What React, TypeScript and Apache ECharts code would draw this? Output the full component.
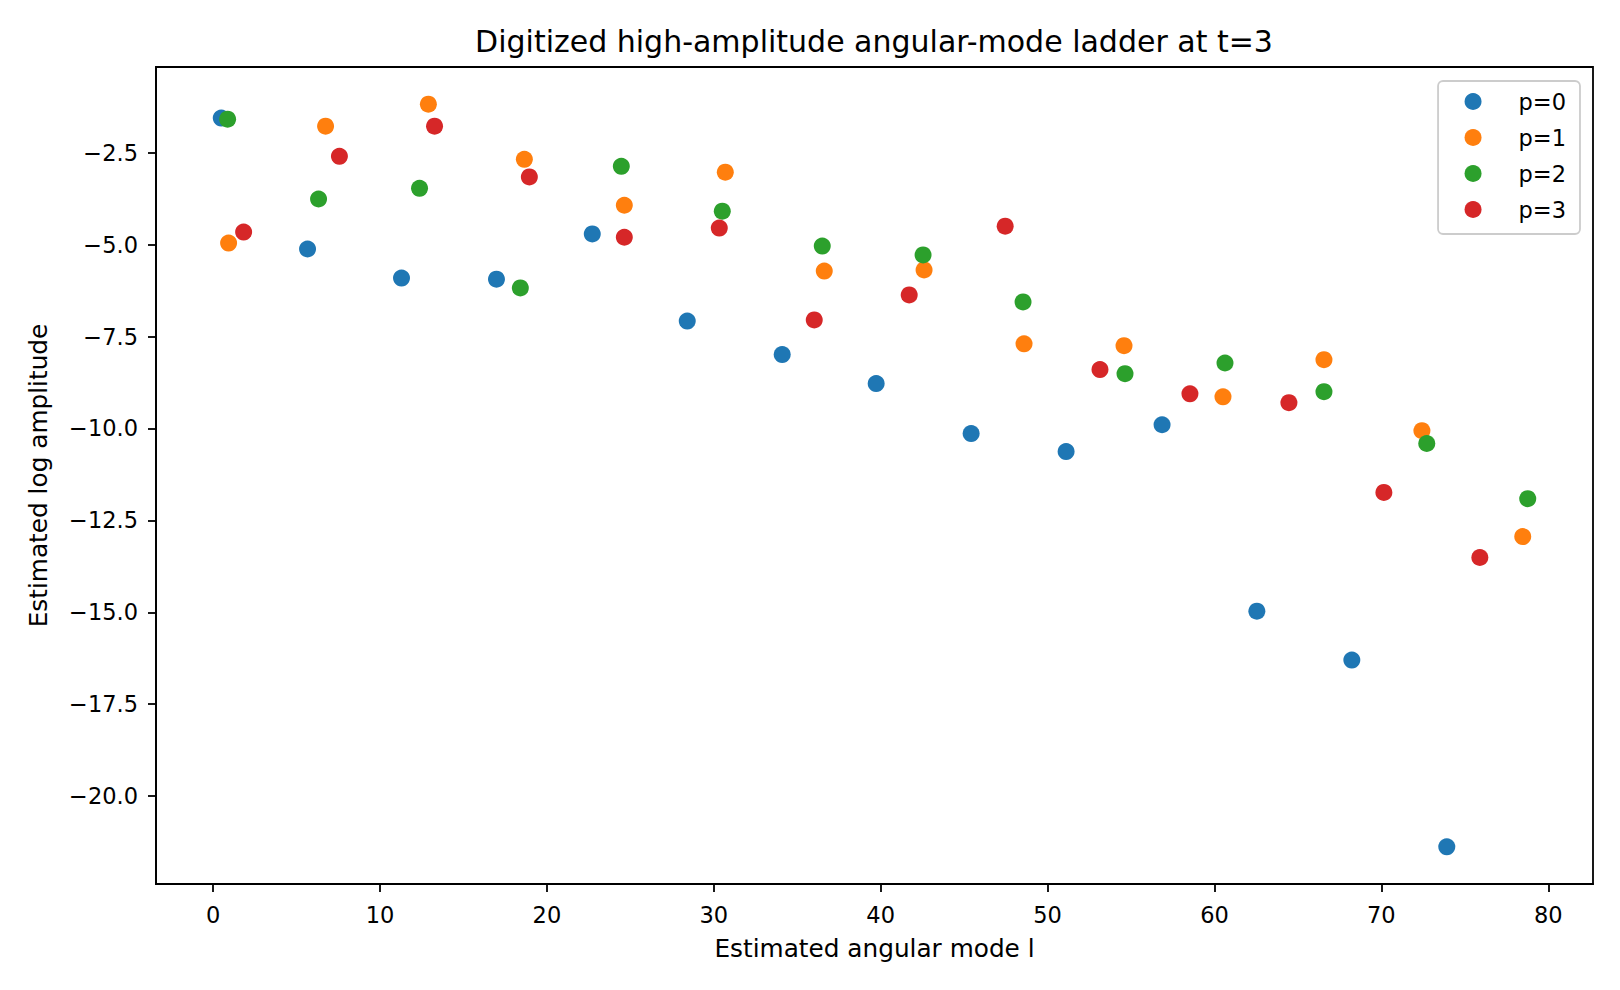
import React, { useEffect, useRef } from 'react'
import * as echarts from 'echarts'

// values: [angular mode l, log amplitude]
const seriesNames = ['p=0', 'p=1', 'p=2', 'p=3']
const colors = ['#1f77b4', '#ff7f0e', '#2ca02c', '#d62728']

const p0 = [
  [0.49, -1.56], [5.66, -5.12], [11.29, -5.91], [16.98, -5.94], [22.72, -4.71],
  [28.41, -7.08], [34.1, -7.99], [39.73, -8.78], [45.42, -10.14], [51.11, -10.63],
  [56.86, -9.9], [62.54, -14.97], [68.23, -16.3], [73.92, -21.38],
]
const p1 = [
  [0.93, -4.96], [6.74, -1.78], [12.9, -1.18], [18.65, -2.68], [24.64, -3.93],
  [30.69, -3.03], [36.62, -5.72], [42.6, -5.69], [48.59, -7.7], [54.58, -7.75],
  [60.51, -9.14], [66.56, -8.13], [72.43, -10.06], [78.47, -12.94],
]
const p2 = [
  [0.87, -1.59], [6.32, -3.76], [12.37, -3.47], [18.41, -6.18], [24.46, -2.87],
  [30.51, -4.09], [36.5, -5.04], [42.54, -5.28], [48.53, -6.56], [54.64, -8.51],
  [60.63, -8.22], [66.56, -9.0], [72.72, -10.41], [78.77, -11.91],
]
const p3 = [
  [1.83, -4.66], [7.57, -2.6], [13.27, -1.78], [18.95, -3.16], [24.64, -4.8],
  [30.33, -4.55], [36.02, -7.05], [41.71, -6.37], [47.46, -4.5], [53.14, -8.4],
  [58.53, -9.06], [64.46, -9.3], [70.15, -11.74], [75.9, -13.51],
]
const allSeries = [p0, p1, p2, p3]

const xTicks = [0, 10, 20, 30, 40, 50, 60, 70, 80]
const yTicks = [-20, -17.5, -15, -12.5, -10, -7.5, -5, -2.5]

const FONT = 'DejaVu Sans'

const fmtY = (v: number) => (v < 0 ? '\u2212' : '') + Math.abs(v).toFixed(1)

const App: React.FC = () => {
  const chartRef = useRef<HTMLDivElement>(null)

  useEffect(() => {
    if (!chartRef.current) return
    const chart = echarts.init(chartRef.current, null, { renderer: 'svg' })

    const tickStyle = { show: true, inside: false, length: 8, lineStyle: { color: '#000', width: 1.8 } }

    chart.setOption({
      animation: false,
      backgroundColor: '#fff',
      textStyle: { fontFamily: FONT },
      title: {
        text: 'Digitized high-amplitude angular-mode ladder at t=3',
        left: 874,
        top: 26.5,
        padding: 0,
        textAlign: 'center',
        textStyle: { fontFamily: FONT, fontSize: 30, fontWeight: 'normal', color: '#000' },
      },
      legend: {
        orient: 'vertical',
        right: 40,
        top: 81,
        data: seriesNames,
        icon: 'circle',
        itemWidth: 17,
        itemHeight: 17,
        itemGap: 13,
        padding: [9, 14, 13, 26.5],
        borderColor: '#cccccc',
        borderWidth: 1.8,
        borderRadius: 5,
        backgroundColor: 'rgba(255,255,255,0.8)',
        textStyle: {
          fontFamily: FONT,
          fontSize: 22.5,
          lineHeight: 22,
          color: '#000',
          padding: [0, 0, 0, 32],
        },
      },
      grid: {
        left: 156,
        right: 27,
        top: 67,
        bottom: 106,
        show: true,
        borderColor: '#000',
        borderWidth: 1.8,
        backgroundColor: 'transparent',
      },
      xAxis: {
        type: 'value',
        min: -3.42,
        max: 82.68,
        name: 'Estimated angular mode l',
        nameLocation: 'middle',
        nameGap: 51.5,
        nameTextStyle: { fontFamily: FONT, fontSize: 24.75, color: '#000' },
        axisLine: { show: true, onZero: false, lineStyle: { color: '#000', width: 1.8 } },
        axisTick: { ...tickStyle, customValues: xTicks },
        axisLabel: {
          customValues: xTicks,
          margin: 19,
          fontFamily: FONT,
          fontSize: 22.5,
          color: '#000',
        },
        splitLine: { show: false },
      },
      yAxis: {
        type: 'value',
        min: -22.39,
        max: -0.17,
        name: 'Estimated log amplitude',
        nameLocation: 'middle',
        nameGap: 105,
        nameTextStyle: { fontFamily: FONT, fontSize: 24.75, color: '#000' },
        axisLine: { show: true, onZero: false, lineStyle: { color: '#000', width: 1.8 } },
        axisTick: { ...tickStyle, customValues: yTicks },
        axisLabel: {
          customValues: yTicks,
          margin: 18,
          fontFamily: FONT,
          fontSize: 22.5,
          color: '#000',
          formatter: (v: number) => fmtY(v),
        },
        splitLine: { show: false },
      },
      series: allSeries.map((pts, i) => ({
        name: seriesNames[i],
        type: 'scatter',
        data: pts,
        symbol: 'circle',
        symbolSize: 17,
        itemStyle: { color: colors[i], opacity: 1 },
        emphasis: { disabled: true },
      })),
    })

    return () => {
      chart.dispose()
    }
  }, [])

  return (
    <div
      ref={chartRef}
      style={{ position: 'fixed', left: 0, top: 0, width: '1620px', height: '990px' }}
    />
  )
}

export default App
